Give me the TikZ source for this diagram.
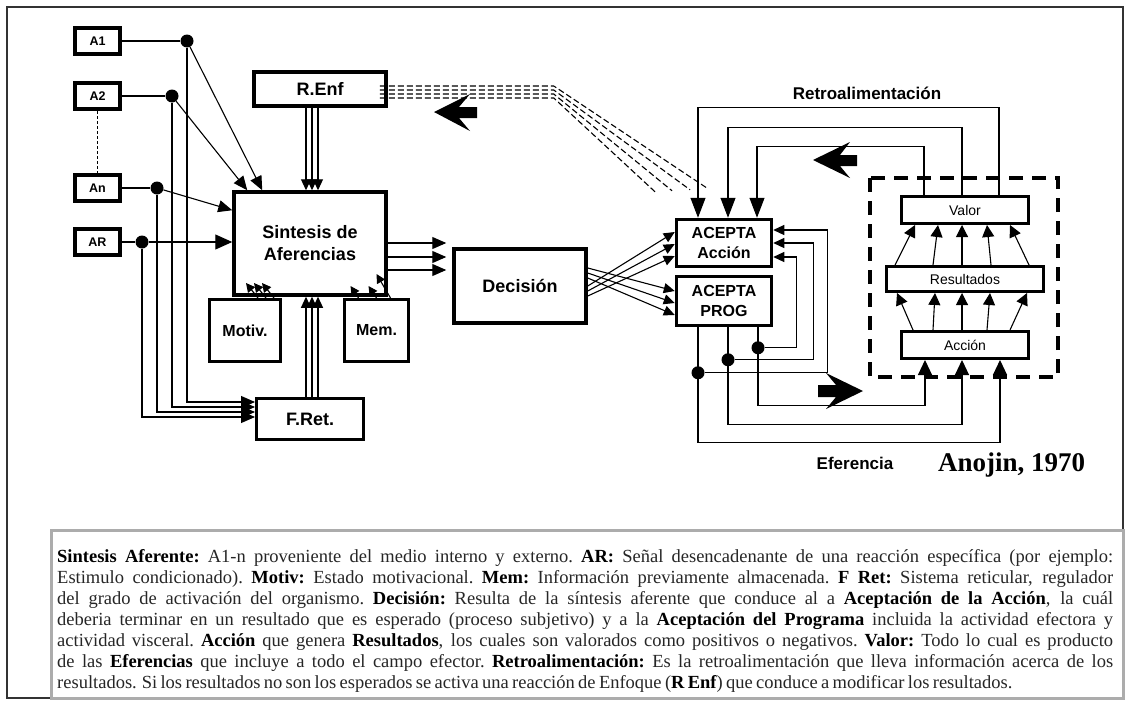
\documentclass[tikz,border=0pt]{standalone}
\usepackage{fontspec}
\setmainfont{Liberation Serif}
\newfontfamily\lsans{Liberation Sans}
\usetikzlibrary{arrows.meta,calc}
\newcommand\jl[1]{\par\noindent\hbox to \hsize{\spaceskip=4.6pt plus 30pt minus 1.5pt\xspaceskip=\spaceskip #1}}
\newcommand\jlast[1]{\par\noindent\hbox to \hsize{#1\hfil}}
\begin{document}
\begin{tikzpicture}[x=1pt,y=-1pt,
  bx/.style={draw, line width=3.5pt, fill=white, inner sep=0pt, align=center, font=\lsans\bfseries\fontsize{18}{22}\selectfont},
  sbx/.style={bx, line width=4pt, minimum width=45pt, minimum height=26pt, font=\lsans\bfseries\fontsize{12.5}{14}\selectfont},
  abx/.style={bx, font=\lsans\bfseries\fontsize{16}{20}\selectfont, minimum width=95pt},
  rbx/.style={draw, line width=3pt, fill=white, inner sep=0pt, font=\lsans\fontsize{14}{16}\selectfont},
  ln/.style={line width=1.1pt},
  ta/.style={ln, -{Triangle[length=11pt,width=10pt]}},
  tl/.style={ln, -{Triangle[length=14pt,width=12pt]}},
  ts/.style={ln, -{Triangle[length=9pt,width=9pt]}},
  tb/.style={ln, -{Triangle[length=20pt,width=15pt]}},
  tc/.style={ln, -{Triangle[length=15pt,width=14pt]}},
  tm/.style={ln, -{Triangle[length=12pt,width=12pt]}},
  dot/.style={circle, fill=black, inner sep=0pt, minimum size=13pt},
  dsh/.style={line width=1.1pt, dash pattern=on 6pt off 3pt},
  lbl/.style={font=\lsans\bfseries\fontsize{17}{20}\selectfont, inner sep=0pt}
]
\useasboundingbox (0,0) rectangle (1132,715);
\fill[white] (0,0) rectangle (1132,715);
\draw[line width=1.2pt, black!80] (7,7) rectangle (1123,698);

% dashed effector box
\draw[line width=3.5pt, dash pattern=on 14pt off 9pt] (870,178) rectangle (1058,377);

% ---------- nodes ----------
\node[sbx] (a1) at (97.5,41) {A1};
\node[sbx] (a2) at (97.5,96) {A2};
\node[sbx] (an) at (97.5,188) {An};
\node[sbx] (ar) at (97.5,242) {AR};

\node[dot] (d1) at (187,41) {};
\node[dot] (d2) at (172,96) {};
\node[dot] (dn) at (157,188) {};
\node[dot] (dr) at (142,242) {};

\node[bx, minimum width=152pt, minimum height=103pt] (S) at (310,243.5) {Sintesis de\\Aferencias};
\node[bx, minimum width=132pt, minimum height=34pt] (R) at (320,89) {R.Enf};
\node[bx, line width=3pt, minimum width=71pt, minimum height=62pt, font=\lsans\bfseries\fontsize{16}{20}\selectfont] (M) at (245,330.5) {Motiv.};
\node[bx, line width=3pt, minimum width=64pt, minimum height=62pt, font=\lsans\bfseries\fontsize{16}{20}\selectfont] (Me) at (376.5,330.5) {Mem.};
\node[bx, line width=3pt, minimum width=107pt, minimum height=41pt] (F) at (310,419) {F.Ret.};
\node[bx, minimum width=132pt, minimum height=74pt] (D) at (520,286) {Decisión};
\node[abx, minimum height=47pt] (A) at (724,243) {ACEPTA\\Acción};
\node[abx, minimum height=49pt] (P) at (724,301) {ACEPTA\\PROG};
\node[rbx, minimum width=127pt, minimum height=27pt] (V) at (965,210) {Valor};
\node[rbx, minimum width=157pt, minimum height=25pt] (Re) at (965,279) {Resultados};
\node[rbx, minimum width=127pt, minimum height=27pt] (Ac) at (965,345) {Acción};

% ---------- left inputs ----------
\draw[ln] (a1) -- (d1);
\draw[ln] (a2) -- (d2);
\draw[ln] (an) -- (dn);
\draw[ln] (ar) -- (dr);
\draw[line width=0.8pt, dash pattern=on 3pt off 2pt] (a2) -- (an);

\draw[tl] (d1) -- ($(S.north west)+(30,0)$);
\draw[tl] (d2) -- ($(S.north west)+(15,0)$);
\draw[tl] (dn) -- ($(S.north west)+(0,20)$);
\draw[ln, -{Triangle[length=17pt,width=15pt]}] (dr) -- (dr -| S.west);

\draw[tl] (d1) |- ($(F.west)+(0,-17)$);
\draw[tl] (d2) |- ($(F.west)+(0,-12)$);
\draw[tl] (dn) |- ($(F.west)+(0,-7)$);
\draw[tl] (dr) |- ($(F.west)+(0,-2)$);

% R.Enf -> Sintesis, F.Ret -> Sintesis
\foreach \dx in {-4,2,8} {
  \draw[ta] ($(R.south -| S.north)+(\dx,0)$) -- ($(S.north)+(\dx,0)$);
  \draw[ta] ($(F.north)+(\dx,0)$) -- ($(S.south)+(\dx,0)$);
}
% Motiv, Mem -> Sintesis
\foreach \dx in {13,21,29} \draw[ts] ($(M.north)+(\dx,0)$) -- ++(-12,-15);
\draw[ts] ($(Me.north)+(-18,0)$) -- ++(-8,-12);
\draw[ts] ($(Me.north)+(0,0)$) -- ++(-8,-12);
\draw[ts] ($(Me.north)+(14,0)$) -- ++(-14,-24);

% Sintesis -> Decision
\foreach \a/\b in {-0.5/-43, 13.5/-29, 26.5/-16}
  \draw[ln, -{Triangle[length=14pt,width=12pt]}] ($(S.east)+(0,\a)$) -- ($(D.west)+(-6,\b)$);

% Decision -> ACEPTA
\foreach \a/\b in {0/-11, 5/1, 10/13}
  \draw[ta] ($(D.east)+(0,\a)$) -- ($(A.west)+(0,\b)$);
\foreach \a/\b in {-18/-10, -13/2, -8/14}
  \draw[ta] ($(D.east)+(0,\a)$) -- ($(P.west)+(0,\b)$);

% Retroalimentacion: Valor -> ACEPTA Accion
\draw[tb] ($(V.north)+(34,0)$) -- ++(0,-87.5) -| ($(A.north)+(-26,0)$);
\draw[tb] ($(V.north)+(-3,0)$) -- ++(0,-67.5) -| ($(A.north)+(4,0)$);
\draw[tb] ($(V.north)+(-41,0)$) -- ++(0,-48.5) -| ($(A.north)+(33,0)$);

% R.Enf dashed
\foreach \a/\ex/\ey in {-3/-16/-29, 1/-34/-28, 5/-52/-27, 9/-69/-26}
  \draw[dsh] ($(R.east)+(-8,\a)$) -- ++(174,0) -- ($(A.north)+(\ex,\ey)$);

% Eferencia: PROG -> Accion
\draw[tc] ($(P.south)+(-26,0)$) -- ++(0,115.5) -| ($(Ac.south)+(35,0)$);
\draw[tc] ($(P.south)+(4,0)$) -- ++(0,97.5) -| ($(Ac.south)+(-3,0)$);
\draw[tc] ($(P.south)+(34,0)$) -- ++(0,78.5) -| ($(Ac.south)+(-40,0)$);

\node[dot] (e1) at ($(P.south)+(-26,45.5)$) {};
\node[dot] (e2) at ($(P.south)+(4,32.5)$) {};
\node[dot] (e3) at ($(P.south)+(34,20.5)$) {};

\draw[ta] (e3) -| ($(A.east)+(23.5,14)$) -- ($(A.east)+(0,14)$);
\draw[ta] (e2) -| ($(A.east)+(40.5,0)$) -- (A.east);
\draw[ta] (e1) -| ($(A.east)+(54.5,-13)$) -- ($(A.east)+(0,-13)$);

% Accion -> Resultados -> Valor
\foreach \a/\b in {-70/-50, -32/-27, -3/-3, 26/22, 64/45}
  \draw[tm] ($(Re.north)+(\a,0)$) -- ($(V.south)+(\b,0)$);
\foreach \a/\b in {-52/-68, -32/-30, -3/-3, 22/25, 45/62}
  \draw[tm] ($(Ac.north)+(\a,0)$) -- ($(Re.south)+(\b,0)$);

% big decorative arrows
\fill (434,112) -- (470,94) -- (459,107) -- (477,107) -- (477,118) -- (459,118) -- (470,131) -- cycle;
\fill (813,160) -- (850,142) -- (840,155) -- (857,155) -- (857,166) -- (840,166) -- (850,178) -- cycle;
\fill (863,391) -- (826,373) -- (836,385) -- (818,385) -- (818,397) -- (836,397) -- (826,409) -- cycle;

% labels
\node[lbl] (retro) at (867,93) {Retroalimentación};
\node[lbl] (efer) at (855,463) {Eferencia};
\node[font=\bfseries\fontsize{27}{30}\selectfont, inner sep=0pt, anchor=west] (anoj) at (938,465) {Anojin, 1970};

% legend
\node[draw=gray!65, line width=3pt, minimum width=1072pt, minimum height=168pt, anchor=north west, inner sep=0pt] (leg) at (49.5,528.5) {};
\node[anchor=north west, inner sep=0pt, text width=1056pt] (legtxt) at (57,541) {\fontsize{18.5}{21}\selectfont\color{black!85}%
\jl{\textbf{\color{black}Sintesis Aferente:} A1-n proveniente del medio interno y externo. \textbf{\color{black}AR:} Señal desencadenante de una reacción específica (por ejemplo:}%
\jl{Estimulo condicionado). \textbf{\color{black}Motiv:} Estado motivacional. \textbf{\color{black}Mem:} Información previamente almacenada. \textbf{\color{black}F Ret:} Sistema reticular, regulador}%
\jl{del grado de activación del organismo. \textbf{\color{black}Decisión:} Resulta de la síntesis aferente que conduce al a \textbf{\color{black}Aceptación de la Acción}, la cuál}%
\jl{deberia terminar en un resultado que es esperado (proceso subjetivo) y a la \textbf{\color{black}Aceptación del Programa} incluida la actividad efectora y}%
\jl{actividad visceral. \textbf{\color{black}Acción} que genera \textbf{\color{black}Resultados}, los cuales son valorados como positivos o negativos. \textbf{\color{black}Valor:} Todo lo cual es producto}%
\jl{de las \textbf{\color{black}Eferencias} que incluye a todo el campo efector. \textbf{\color{black}Retroalimentación:} Es la retroalimentación que lleva información acerca de los}%
\jlast{resultados. Si los resultados no son los esperados se activa una reacción de Enfoque (\textbf{\color{black}R Enf}) que conduce a modificar los resultados.}\par};
\end{tikzpicture}
\end{document}
